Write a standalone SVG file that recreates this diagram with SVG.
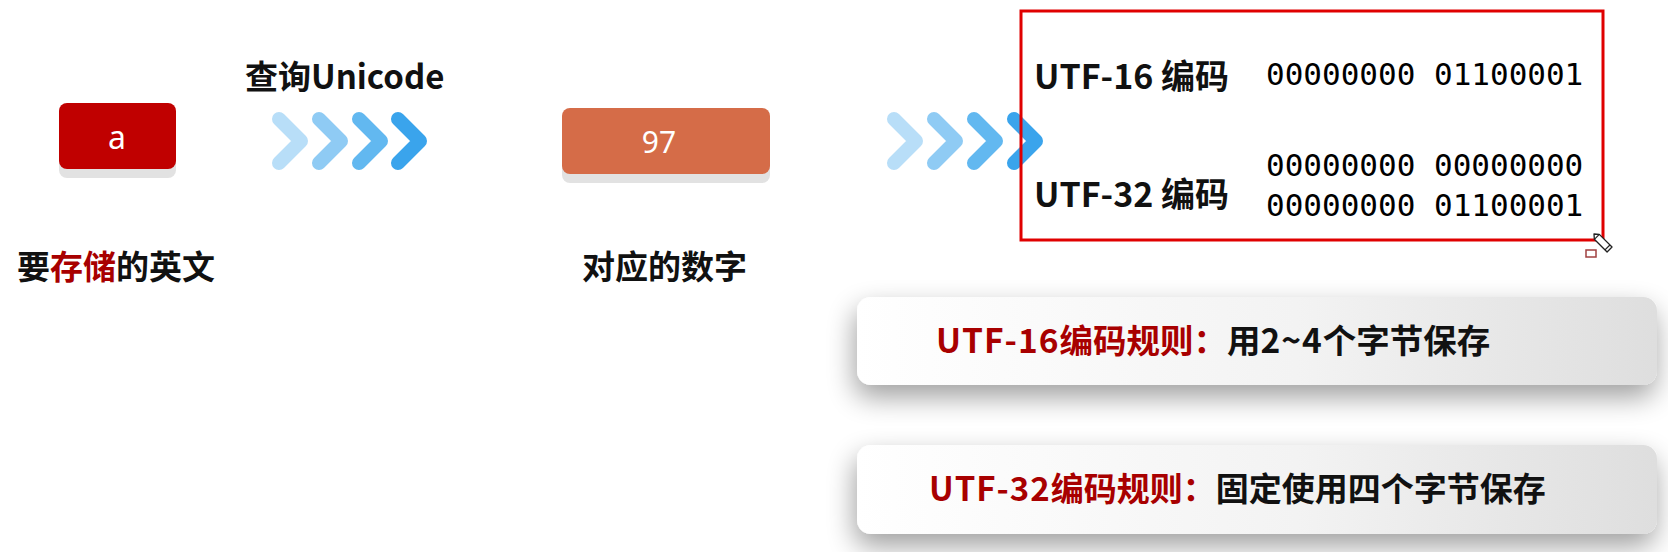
<svg xmlns="http://www.w3.org/2000/svg" width="1668" height="552" viewBox="0 0 1668 552">
  <defs>
    <linearGradient id="cardFill" x1="0" y1="0" x2="1" y2="0">
      <stop offset="0" stop-color="#ffffff"/>
      <stop offset="0.55" stop-color="#f3f3f3"/>
      <stop offset="1" stop-color="#dedede"/>
    </linearGradient>
    <filter id="cardShadow" x="-10%" y="-60%" width="120%" height="240%">
      <feGaussianBlur in="SourceAlpha" stdDeviation="14"/>
      <feOffset dx="-2" dy="12" result="b"/>
      <feComponentTransfer><feFuncA type="linear" slope="0.38"/></feComponentTransfer>
      <feMerge><feMergeNode/><feMergeNode in="SourceGraphic"/></feMerge>
    </filter>
    <g id="chev">
      <polyline points="7,-22 29,0 7,22" fill="none" stroke-width="14" stroke-linecap="round" stroke-linejoin="round"/>
    </g>
  </defs>
  <style>
    .cjk { font-family: "Noto Sans CJK SC", "Noto Sans", sans-serif; font-weight: 700; }
    .blk { fill: #111111; }
    .red { fill: #a80000; }
    .lat { letter-spacing: 1px; }
    .wt { font-family: "Noto Sans", "Open Sans", sans-serif; fill: #ffffff; font-weight: 400; }
    .mono { font-family: "DejaVu Sans Mono", "Liberation Mono", monospace; font-size: 31px; fill: #000000; }
    .c1 { stroke: #b8def8; }
    .c2 { stroke: #8fcbf4; }
    .c3 { stroke: #62b8f0; }
    .c4 { stroke: #3aa4ec; }
  </style>
  <rect width="1668" height="552" fill="#ffffff"/>

  <!-- node: a -->
  <g id="node-a">
    <rect x="59" y="111" width="117" height="67" rx="8" fill="#e2e2e2"/>
    <rect x="59" y="103" width="117" height="66" rx="8" fill="#c00000"/>
    <text x="117" y="136" class="wt" font-size="32" text-anchor="middle" dominant-baseline="central">a</text>
    <text x="17" y="265" class="cjk blk" font-size="33" dominant-baseline="central">要<tspan class="red">存储</tspan>的英文</text>
  </g>

  <!-- node: 97 -->
  <g id="node-97">
    <rect x="562" y="116" width="208" height="67" rx="8" fill="#e2e2e2"/>
    <rect x="562" y="108" width="208" height="66" rx="8" fill="#d56c48"/>
    <text x="659" y="141" class="wt" font-size="30" text-anchor="middle" dominant-baseline="central">97</text>
    <text x="582" y="265" class="cjk blk" font-size="33" dominant-baseline="central">对应的数字</text>
  </g>

  <!-- connectors -->
  <g id="connectors">
    <g id="arrow1">
      <use href="#chev" x="272" y="141" class="c1"/>
      <use href="#chev" x="312" y="141" class="c2"/>
      <use href="#chev" x="352" y="141" class="c3"/>
      <use href="#chev" x="391" y="141" class="c4"/>
      <text x="245" y="75" class="cjk blk" font-size="33" dominant-baseline="central">查询Unicode</text>
    </g>
    <g id="arrow2">
      <use href="#chev" x="887" y="141" class="c1"/>
      <use href="#chev" x="927" y="141" class="c2"/>
      <use href="#chev" x="967" y="141" class="c3"/>
      <use href="#chev" x="1007" y="141" class="c4"/>
    </g>
  </g>

  <!-- node: encodings box -->
  <g id="node-encodings">
    <rect x="1021" y="11" width="582" height="229" fill="none" stroke="#e00000" stroke-width="3"/>
    <text x="1034" y="74" class="cjk blk" font-size="34" dominant-baseline="central">UTF-16 编码</text>
    <text x="1266" y="74" class="mono" dominant-baseline="central">00000000 01100001</text>
    <text x="1034" y="192" class="cjk blk" font-size="34" dominant-baseline="central">UTF-32 编码</text>
    <text x="1266" y="165" class="mono" dominant-baseline="central">00000000 00000000</text>
    <text x="1266" y="205" class="mono" dominant-baseline="central">00000000 01100001</text>
  </g>

  <!-- cursor -->
  <g id="cursor">
    <rect x="1586" y="250" width="10" height="7" fill="#ffffff" stroke="#a04040" stroke-width="1.5"/>
    <g transform="translate(1594,234) rotate(45)">
      <path d="M0,0 L4,-3.5 L22,-3.5 L22,3.5 L4,3.5 Z" fill="#ffffff" stroke="#222222" stroke-width="1.3" stroke-linejoin="round"/>
      <line x1="4" y1="-3.5" x2="4" y2="3.5" stroke="#222222" stroke-width="1.2"/>
      <line x1="19" y1="-3.5" x2="19" y2="3.5" stroke="#222222" stroke-width="1.2"/>
    </g>
  </g>

  <!-- node: rule 16 -->
  <g id="node-rule16">
    <rect x="857" y="297" width="800" height="88" rx="14" fill="url(#cardFill)" filter="url(#cardShadow)"/>
    <text x="936" y="338" class="cjk blk" font-size="33.5" dominant-baseline="central"><tspan class="red"><tspan class="lat">UTF-16</tspan>编码规则：</tspan>用<tspan class="lat">2~4</tspan>个字节保存</text>
  </g>

  <!-- node: rule 32 -->
  <g id="node-rule32">
    <rect x="857" y="445" width="800" height="89" rx="14" fill="url(#cardFill)" filter="url(#cardShadow)"/>
    <text x="929" y="487" class="cjk blk" font-size="33" dominant-baseline="central"><tspan class="red"><tspan class="lat">UTF-32</tspan>编码规则：</tspan>固定使用四个字节保存</text>
  </g>
</svg>
